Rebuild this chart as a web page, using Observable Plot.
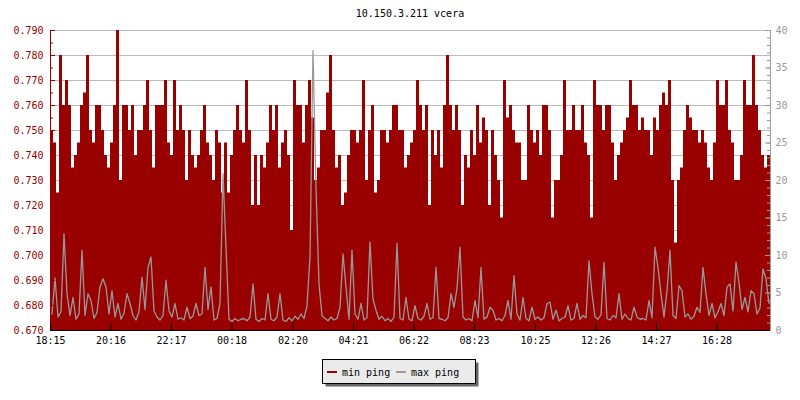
<!DOCTYPE html>
<html><head><meta charset="utf-8">
<script src="https://cdn.jsdelivr.net/npm/d3@7"></script>
<script src="https://cdn.jsdelivr.net/npm/@observablehq/plot@0.6"></script>
<style>body{margin:0;background:#fff}</style>
</head><body><div id="chart"></div>
<script>
const title = "10.150.3.211 vcera";
const seriesNames = ["min ping", "max ping"];

// min ping (left axis, ms), one sample every 6 minutes from 18:15
const minPing = [
.750,.745,.725,.780,.760,.770,.760,.735,.740,.745,
.760,.765,.780,.750,.745,.760,.760,.750,.740,.735,
.745,.760,.790,.730,.760,.760,.750,.760,.740,.750,
.750,.760,.770,.750,.735,.760,.760,.760,.770,.745,
.740,.770,.750,.760,.750,.730,.750,.740,.735,.740,
.750,.760,.745,.740,.730,.750,.745,.725,.745,.725,
.740,.750,.760,.750,
.745,.770,.750,.720,.740,.720,.740,.735,.745,.760,
.750,.760,.735,.745,.750,.740,.710,.770,.760,.760,
.745,.760,.770,.755,.730,.735,.750,.750,.765,.780,
.750,.735,.740,.720,.725,.740,.750,.750,.745,.750,
.770,.730,.750,.760,.725,.730,.750,.750,.745,.750,
.760,.760,.750,.750,.735,.740,.745,.750,.770,.760,
.750,.760,.720,.750,.740,.750,
.735,.760,.780,.760,.750,.760,.750,.720,.740,.735,
.750,.740,.760,.745,.755,.750,.720,.750,.740,.730,
.715,.770,.755,.760,.750,.745,.745,.730,.730,.760,
.750,.745,.750,.740,.760,.760,.750,.715,.730,.730,
.740,.770,.750,.750,.760,.750,.750,.760,.745,.740,
.715,.770,.760,.760,.750,.760,.760,.745,.730,.740,
.745,.750,.755,.770,.760,.760,.750,
.755,.750,.750,.740,.755,.750,.760,.765,.760,.770,
.730,.705,.730,.735,.750,.760,.755,.750,.750,.745,
.750,.745,.735,.730,.745,.770,.760,.760,.770,.750,
.745,.730,.730,.740,.770,.760,.760,.780,.760,.750,
.740,.735,.740
];

// max ping (right axis, ms), same timestamps
const maxPing = [
2.2,7.0,1.8,2.5,12.9,4.9,2.0,4.4,1.5,2.2,
10.7,2.0,4.9,4.0,1.6,2.4,5.8,6.9,5.8,2.2,
5.3,1.8,3.6,1.5,2.3,4.9,3.6,2.0,1.4,2.5,
7.1,2.8,8.4,9.8,2.6,1.8,1.4,2.0,6.7,2.6,
1.8,3.6,1.5,1.7,1.4,3.1,1.6,1.9,3.6,2.0,
2.2,8.4,2.8,5.8,1.4,1.6,3.6,20.9,11.1,1.5,
1.2,1.6,1.3,1.5,
1.6,1.3,1.8,6.2,1.5,1.2,1.6,1.4,4.9,1.5,
1.3,1.8,4.9,1.4,1.2,1.7,1.3,1.9,1.5,2.2,
1.6,3.3,9.8,37.3,19.1,6.2,2.0,1.6,1.3,1.8,
1.4,1.6,3.1,10.2,5.8,1.5,10.7,2.2,1.5,3.6,
1.4,1.7,11.8,4.2,2.7,1.5,1.9,1.3,1.6,1.2,
1.8,11.6,1.6,1.4,4.4,1.5,1.3,3.3,1.6,1.4,
1.9,3.6,1.5,1.7,8.4,1.6,
1.5,1.3,1.7,4.9,3.1,5.6,11.1,1.8,1.4,1.6,
1.3,4.0,1.7,8.4,1.5,1.8,3.1,2.7,1.4,1.6,
1.3,2.0,4.0,1.5,7.3,2.2,1.4,4.4,1.6,1.3,
3.1,1.5,1.8,1.4,1.7,3.6,3.8,1.5,2.7,1.3,
1.6,1.8,3.3,1.4,1.6,3.6,1.5,2.0,1.7,9.3,
4.9,1.8,1.5,2.1,9.1,1.6,1.4,2.0,1.7,4.9,
1.5,2.2,1.6,1.4,3.1,1.8,1.5,
1.6,1.4,4.0,1.7,11.1,8.4,4.9,1.8,5.3,10.7,
2.0,1.6,6.0,5.3,1.8,2.2,1.5,1.9,3.1,2.4,
8.4,4.9,2.0,3.6,1.7,2.5,3.6,2.0,5.8,6.2,
2.6,9.1,6.4,2.8,4.4,2.5,5.3,4.9,2.2,3.0,
8.2,6.9,3.6
];

const xTickLabels = ["18:15","20:16","22:17","00:18","02:20","04:21","06:22","08:23","10:25","12:26","14:27","16:28"];
const leftTicks = [0.670,0.680,0.690,0.700,0.710,0.720,0.730,0.740,0.750,0.760,0.770,0.780,0.790];
const rightTicks = [0,5,10,15,20,25,30,35,40];

const RED = "#990000", GRAY = "#999999";
const start = new Date(2016, 0, 1, 18, 15);
const stepMs = 6 * 60000;
const timeAt = i => new Date(+start + i * stepMs);
const end = timeAt(minPing.length);
const rows = minPing.map((v, i) => ({t: timeAt(i), min: v}));
rows.push({t: end, min: minPing[minPing.length - 1]});
const lineRows = maxPing.map((v, i) => ({t: new Date(+timeAt(i) + stepMs / 2), max: v}));
const toLeft = r => 0.670 + r * 0.003;
const tickDates = xTickLabels.map(s => {
  const [h, m] = s.split(":").map(Number);
  const d = new Date(2016, 0, 1, h, m);
  if (h < 18) d.setDate(2);
  return d;
});
const leftMinor = leftTicks.slice(0, -1).map(v => v + 0.005);
const rightMinor = d3.range(0, 41).map(toLeft);
const rightMajor = rightTicks.map(toLeft);

const plot = Plot.plot({
  width: 800, height: 400,
  marginLeft: 50, marginRight: 30, marginTop: 30, marginBottom: 70,
  style: {fontFamily: "'DejaVu Sans Mono', monospace", fontSize: "10px", background: "#fff", overflow: "visible"},
  x: {type: "time", domain: [start, end]},
  y: {domain: [0.670, 0.790]},
  marks: [
    Plot.ruleY(leftTicks, {stroke: "#bbbbbb"}),
    Plot.areaY(rows, {x: "t", y1: 0.670, y2: "min", curve: "step-after", fill: RED}),
    Plot.line(lineRows, {x: "t", y: d => toLeft(d.max), curve: "linear", stroke: GRAY, strokeWidth: 1.3}),
    // left axis
    Plot.ruleX([start], {stroke: RED}),
    Plot.tickY(leftTicks, {y: d => d, stroke: RED, insetRight: 715}),
    Plot.tickY(leftMinor, {y: d => d, stroke: RED, insetRight: 717}),
    Plot.axisY({ticks: leftTicks, tickSize: 0, tickPadding: 7, tickFormat: d3.format(".3f"), color: RED, label: null}),
    // right axis
    Plot.ruleX([end], {stroke: GRAY}),
    Plot.tickY(rightMajor, {y: d => d, stroke: GRAY, insetLeft: 715}),
    Plot.tickY(rightMinor, {y: d => d, stroke: GRAY, insetLeft: 717}),
    Plot.axisY({anchor: "right", ticks: rightMajor, tickSize: 0, tickPadding: 5,
      tickFormat: d => String(Math.round((d - 0.670) / 0.003)), color: GRAY, label: null}),
    // x axis
    Plot.ruleY([0.670], {stroke: "#000"}),
    Plot.ruleX(tickDates, {x: d => d, stroke: "#000", insetTop: 293}),
    Plot.axisX({ticks: tickDates, tickSize: 0, tickPadding: 6,
      tickFormat: d => xTickLabels[tickDates.findIndex(x => +x === +d)], color: "#000", label: null})
  ]
});

document.getElementById("chart").appendChild(plot);
const svg = d3.select(plot.tagName.toLowerCase() === "svg" ? plot : plot.querySelector("svg"));
svg.append("text").attr("x", 410).attr("y", 17).attr("text-anchor", "middle")
  .attr("fill", "#000").attr("font-size", 10).text(title);

const lg = svg.append("g").attr("font-size", 10).attr("text-anchor", "start");
lg.append("rect").attr("x", 325.5).attr("y", 362.5).attr("width", 153).attr("height", 24).attr("fill", "#666");
lg.append("rect").attr("x", 322.5).attr("y", 359.5).attr("width", 153).attr("height", 24)
  .attr("fill", "#ebebeb").attr("stroke", "#000");
const items = [{name: seriesNames[0], color: RED, x: 327}, {name: seriesNames[1], color: GRAY, x: 396}];
for (const it of items) {
  lg.append("line").attr("x1", it.x).attr("x2", it.x + 10).attr("y1", 372).attr("y2", 372)
    .attr("stroke", it.color).attr("stroke-width", 2);
  lg.append("text").attr("x", it.x + 15).attr("y", 375.5).attr("text-anchor", "start")
    .attr("fill", "#000").text(it.name);
}
</script>
</body></html>
